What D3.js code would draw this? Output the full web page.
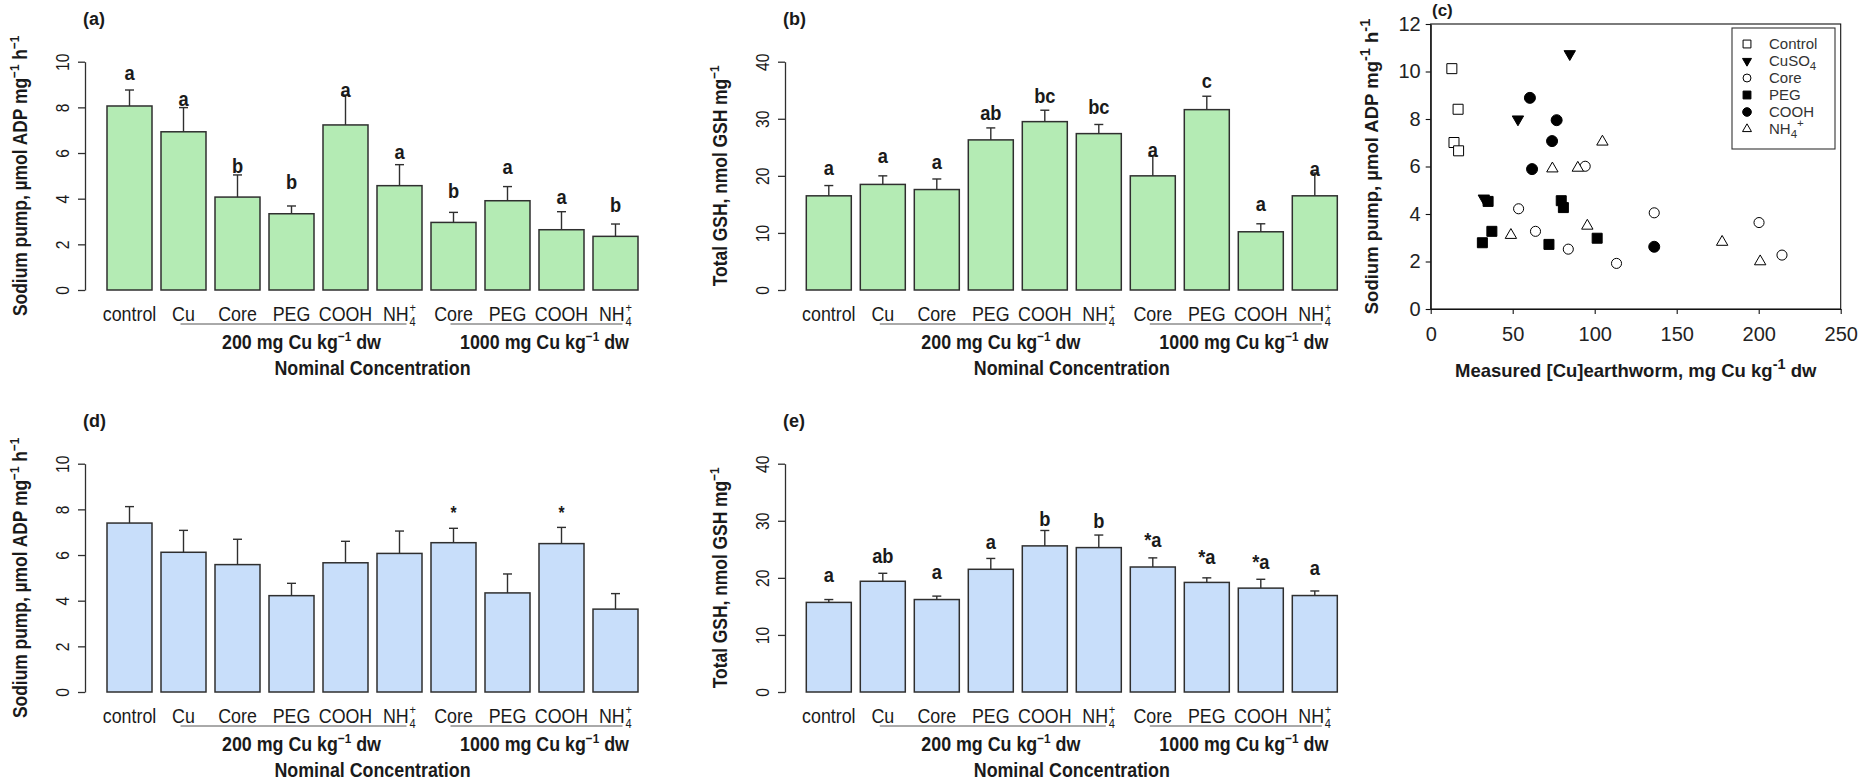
<!DOCTYPE html>
<html>
<head>
<meta charset="utf-8">
<script src="https://cdn.jsdelivr.net/npm/d3@7"></script>
<style>
  html, body { margin: 0; padding: 0; background: #fff; }
  svg { display: block; font-family: Arial, "Liberation Sans", Helvetica, sans-serif; }
</style>
</head>
<body>
<script>
// ---------------- data ----------------
const barKeys   = ["control", "Cu", "Core200", "PEG200", "COOH200", "NH4_200", "Core1000", "PEG1000", "COOH1000", "NH4_1000"];
const barLabels = ["control", "Cu", "Core", "PEG", "COOH", "NH4+", "Core", "PEG", "COOH", "NH4+"];
const doseGroups = [
  { dose: "200",  from: "Cu",       to: "NH4_200" },
  { dose: "1000", from: "Core1000", to: "NH4_1000" }
];

// (a) sodium pump, first exposure
const pumpA    = [8.06, 6.93, 4.07, 3.34, 7.23, 4.57, 2.96, 3.91, 2.64, 2.35];
const pumpASe  = [0.70, 1.06, 0.97, 0.34, 1.31, 0.92, 0.44, 0.62, 0.79, 0.54];
const lettersA = ["a", "a", "b", "b", "a", "a", "b", "a", "a", "b"];
const lettersAAt = [9.49, 8.37, 5.44, 4.70, 8.76, 6.03, 4.34, 5.36, 4.06, 3.72];

// (b) total GSH, first exposure
const gshB    = [16.5, 18.5, 17.6, 26.3, 29.5, 27.4, 20.0, 31.6, 10.2, 16.5];
const gshBSe  = [1.8, 1.5, 1.85, 2.1, 2.0, 1.6, 3.5, 2.35, 1.4, 4.0];
const lettersB = ["a", "a", "a", "ab", "bc", "bc", "a", "c", "a", "a"];
const lettersBAt = [21.3, 23.35, 22.4, 30.95, 34.0, 32.0, 24.5, 36.5, 15.0, 21.2];

// (d) sodium pump, second exposure
const pumpD    = [7.40, 6.12, 5.58, 4.22, 5.66, 6.07, 6.54, 4.34, 6.50, 3.63];
const pumpDSe  = [0.72, 0.96, 1.11, 0.54, 0.94, 0.98, 0.63, 0.83, 0.71, 0.68];
const lettersD = ["", "", "", "", "", "", "*", "", "*", ""];
const lettersDAt = [0, 0, 0, 0, 0, 0, 7.94, 0, 7.94, 0];

// (e) total GSH, second exposure
const gshE    = [15.7, 19.4, 16.2, 21.5, 25.6, 25.3, 21.9, 19.2, 18.2, 16.9];
const gshESe  = [0.5, 1.4, 0.6, 1.9, 2.7, 2.2, 1.6, 0.8, 1.55, 0.8];
const lettersE = ["a", "ab", "a", "a", "b", "b", "*a", "*a", "*a", "a"];
const lettersEAt = [20.5, 23.7, 21.0, 26.3, 30.3, 30.0, 26.6, 23.6, 22.8, 21.6];

const pumpTicks = [0, 2, 4, 6, 8, 10];
const gshTicks  = [0, 10, 20, 30, 40];

// (c) sodium pump vs. measured tissue Cu
const controlCu = [12.9, 16.7, 14.2, 17.0];
const controlPump = [10.12, 8.41, 7.01, 6.66];
const cuso4Cu = [84.8, 53.2, 32.4];
const cuso4Pump = [10.74, 7.99, 4.66];
const coreCu = [53.6, 63.9, 83.9, 94.2, 113.3, 136.3, 200.2, 214.2];
const corePump = [4.22, 3.27, 2.52, 6.01, 1.92, 4.05, 3.64, 2.27];
const pegCu = [35.0, 31.5, 37.3, 72.1, 79.6, 80.9, 101.5];
const pegPump = [4.53, 2.79, 3.27, 2.72, 4.56, 4.27, 2.98];
const coohCu = [60.5, 76.8, 74.0, 61.8, 136.3];
const coohPump = [8.89, 7.95, 7.07, 5.89, 2.62];
const nh4Cu = [48.9, 74.2, 89.7, 104.7, 95.5, 177.7, 200.9];
const nh4Pump = [3.11, 5.91, 5.94, 7.04, 3.50, 2.82, 2.00];
const scatterXTicks = [0, 50, 100, 150, 200, 250];
const scatterYTicks = [0, 2, 4, 6, 8, 10, 12];

// ---------------- drawing ----------------
const W = 1870, H = 782;
const INK = "#1a1a1a", LINE = "#2f2f2f";
const GREEN = "#b4ebb4", BLUE = "#c8defa";
const SX = 0.87;   // bar panels use a condensed type
const FS = 20.5;   // bar panel text size

const svg = d3.select("body").append("svg").attr("width", W).attr("height", H);

// text made of plain and superscript pieces
function rich(text, parts, size, supSize, shift) {
  let off = 0;
  parts.forEach(p => {
    const sup = p[1];
    const target = sup ? -shift : 0;
    text.append("tspan")
      .attr("font-size", sup ? supSize : size)
      .attr("dy", target - off)
      .text(p[0]);
    off = target;
  });
  return text;
}

function place(parent, x, y, sx, rotate) {
  return parent.append("g")
    .attr("transform", `translate(${x},${y})${rotate ? ` rotate(${rotate})` : ""} scale(${sx},1)`);
}

// NH4+ with stacked sub/superscript, centred on x
function nh4Label(parent, cx, y, size) {
  const g = place(parent, cx, y, SX);
  const inner = g.append("g");
  const base = inner.append("text").attr("font-size", size).attr("fill", INK).text("NH");
  const w = base.node().getComputedTextLength();
  const sup = inner.append("text").attr("x", w + 1).attr("y", -size * 0.45)
    .attr("font-size", size * 0.62).attr("fill", INK).text("+");
  const sub = inner.append("text").attr("x", w + 1).attr("y", size * 0.26)
    .attr("font-size", size * 0.62).attr("fill", INK).text("4");
  const total = w + 1 + Math.max(sup.node().getComputedTextLength(), sub.node().getComputedTextLength());
  inner.attr("transform", `translate(${-total / 2},0)`);
}

function barPanel(cfg) {
  const g = svg.append("g");
  const x = d3.scaleBand().domain(barKeys).range(cfg.xRange)
    .paddingInner(1 / 6).paddingOuter(1 / 12);
  const y = d3.scaleLinear().domain([0, cfg.yMax]).range([cfg.yBase, cfg.yTop]);
  const cx = k => x(k) + x.bandwidth() / 2;

  // y axis
  const ax = g.append("g").attr("transform", `translate(${cfg.axisX},0)`)
    .call(d3.axisLeft(y).tickValues(cfg.ticks).tickSize(7).tickSizeOuter(0).tickFormat(d3.format("d")));
  ax.attr("font-size", null).attr("font-family", null);
  ax.select(".domain").attr("stroke", LINE).attr("stroke-width", 1.3);
  ax.selectAll(".tick line").attr("stroke", LINE).attr("stroke-width", 1.3);
  ax.selectAll(".tick text")
    .attr("x", 0).attr("dy", "0.36em")
    .attr("transform", `translate(-22,0) rotate(-90) scale(${SX},1)`)
    .attr("text-anchor", "middle").attr("font-size", 18).attr("fill", INK);

  // y label
  const yl = place(g, cfg.axisX - 58, (cfg.yBase + cfg.yTop) / 2, SX, -90)
    .append("text").attr("text-anchor", "middle").attr("dy", "0.36em")
    .attr("font-weight", "bold").attr("fill", INK);
  rich(yl, cfg.yLabel, 20, 13.5, 8);

  // bars
  g.selectAll("rect.bar").data(cfg.values).join("rect").attr("class", "bar")
    .attr("x", (d, i) => x(barKeys[i])).attr("y", d => y(d))
    .attr("width", x.bandwidth()).attr("height", d => y(0) - y(d))
    .attr("fill", cfg.fill).attr("stroke", LINE).attr("stroke-width", 1.5);

  // error bars
  const eb = g.selectAll("g.err").data(cfg.values).join("g").attr("class", "err")
    .attr("stroke", LINE).attr("stroke-width", 1.4);
  eb.append("line")
    .attr("x1", (d, i) => cx(barKeys[i])).attr("x2", (d, i) => cx(barKeys[i]))
    .attr("y1", d => y(d)).attr("y2", (d, i) => y(d + cfg.se[i]));
  eb.append("line")
    .attr("x1", (d, i) => cx(barKeys[i]) - 4.5).attr("x2", (d, i) => cx(barKeys[i]) + 4.5)
    .attr("y1", (d, i) => y(d + cfg.se[i])).attr("y2", (d, i) => y(d + cfg.se[i]));

  // significance letters
  cfg.letters.forEach((t, i) => {
    if (!t) return;
    place(g, cx(barKeys[i]), y(cfg.lettersAt[i]), SX)
      .append("text").attr("text-anchor", "middle").attr("dy", cfg.letterDy)
      .attr("font-weight", "bold").attr("font-size", cfg.letterSize).attr("fill", INK).text(t);
  });

  // category labels
  barLabels.forEach((lab, i) => {
    if (lab === "NH4+") nh4Label(g, cx(barKeys[i]), cfg.yBase + 31, FS);
    else place(g, cx(barKeys[i]), cfg.yBase + 31, SX).append("text")
      .attr("text-anchor", "middle").attr("font-size", FS).attr("fill", INK).text(lab);
  });

  // dose group underline + label
  doseGroups.forEach(grp => {
    const a = cx(grp.from), b = cx(grp.to);
    g.append("line").attr("x1", a - 3).attr("x2", b + 7)
      .attr("y1", cfg.yBase + 34).attr("y2", cfg.yBase + 34)
      .attr("stroke", "#555").attr("stroke-width", 1);
    const t = place(g, (a + b) / 2 + 10, cfg.yBase + 59, SX).append("text")
      .attr("text-anchor", "middle").attr("font-weight", "bold").attr("fill", INK);
    rich(t, [[grp.dose + " mg Cu kg", 0], ["\u22121", 1], [" dw", 0]], FS, 13.5, 8);
  });

  // x title
  const r = x.range();
  place(g, (r[0] + r[1]) / 2, cfg.yBase + 85, SX).append("text")
    .attr("text-anchor", "middle").attr("font-weight", "bold").attr("font-size", FS)
    .attr("fill", INK).text("Nominal Concentration");

  // panel tag
  g.append("text").attr("x", cfg.axisX - 2).attr("y", cfg.yTop - 37)
    .attr("font-weight", "bold").attr("font-size", 18).attr("fill", INK).text(cfg.tag);
}

const pumpLabel = [["Sodium pump, \u00b5mol ADP mg", 0], ["\u22121", 1], [" h", 0], ["\u22121", 1]];
const gshLabel  = [["Total GSH, nmol GSH mg", 0], ["\u22121", 1]];

barPanel({ tag: "(a)", axisX: 85, xRange: [102.5, 642.5], yBase: 290, yTop: 61.7, yMax: 10,
  ticks: pumpTicks, values: pumpA, se: pumpASe, letters: lettersA, lettersAt: lettersAAt,
  letterDy: "0.32em", letterSize: 21, fill: GREEN, yLabel: pumpLabel });
barPanel({ tag: "(b)", axisX: 785, xRange: [801.8, 1341.8], yBase: 290, yTop: 61.7, yMax: 40,
  ticks: gshTicks, values: gshB, se: gshBSe, letters: lettersB, lettersAt: lettersBAt,
  letterDy: "0.32em", letterSize: 21, fill: GREEN, yLabel: gshLabel });
barPanel({ tag: "(d)", axisX: 85, xRange: [102.5, 642.5], yBase: 692, yTop: 463.7, yMax: 10,
  ticks: pumpTicks, values: pumpD, se: pumpDSe, letters: lettersD, lettersAt: lettersDAt,
  letterDy: "0.45em", letterSize: 18, fill: BLUE, yLabel: pumpLabel });
barPanel({ tag: "(e)", axisX: 785, xRange: [801.8, 1341.8], yBase: 692, yTop: 463.7, yMax: 40,
  ticks: gshTicks, values: gshE, se: gshESe, letters: lettersE, lettersAt: lettersEAt,
  letterDy: "0.32em", letterSize: 21, fill: BLUE, yLabel: gshLabel });

// ---------------- (c) scatter ----------------
(function scatter() {
  const g = svg.append("g");
  const x = d3.scaleLinear().domain([0, 250]).range([1430.7, 1840.7]);
  const y = d3.scaleLinear().domain([0, 12]).range([309, 24]);

  g.append("rect").attr("x", x(0)).attr("y", y(12))
    .attr("width", x(250) - x(0)).attr("height", y(0) - y(12))
    .attr("fill", "none").attr("stroke", "#111").attr("stroke-width", 1.1);

  const ax = g.append("g").attr("transform", `translate(0,${y(0)})`)
    .call(d3.axisBottom(x).tickValues(scatterXTicks).tickSize(5).tickSizeOuter(0).tickPadding(13));
  const ay = g.append("g").attr("transform", `translate(${x(0)},0)`)
    .call(d3.axisLeft(y).tickValues(scatterYTicks).tickSize(5).tickSizeOuter(0).tickPadding(5));
  [ax, ay].forEach(a => {
    a.attr("font-size", null).attr("font-family", null);
    a.select(".domain").attr("stroke", "#111").attr("stroke-width", 1.1);
    a.selectAll(".tick line").attr("stroke", "#111").attr("stroke-width", 1.1);
    a.selectAll(".tick text").attr("font-size", 20).attr("fill", "#222");
  });

  // axis titles
  const xt = g.append("text").attr("x", (x(0) + x(250)) / 2).attr("y", 377)
    .attr("text-anchor", "middle").attr("font-weight", "bold").attr("fill", INK);
  rich(xt, [["Measured [Cu]earthworm, mg Cu kg", 0], ["-1", 1], [" dw", 0]], 18.5, 14.5, 8);
  const yt = g.append("g").attr("transform", `translate(1377.5,${(y(0) + y(12)) / 2}) rotate(-90)`)
    .append("text").attr("text-anchor", "middle").attr("dy", "0.36em")
    .attr("font-weight", "bold").attr("fill", INK);
  rich(yt, [["Sodium pump, \u00b5mol ADP mg", 0], ["-1", 1], [" h", 0], ["-1", 1]], 18.5, 14.5, 8);

  g.append("text").attr("x", 1432).attr("y", 16).attr("font-weight", "bold")
    .attr("font-size", 17).attr("fill", INK).text("(c)");

  const series = [
    { name: "Control", xs: controlCu, ys: controlPump, type: d3.symbolSquare, area: 100, fill: "#fff", flip: false },
    { name: "CuSO4",   xs: cuso4Cu,   ys: cuso4Pump,   type: d3.symbolTriangle, area: 56, fill: "#000", flip: true },
    { name: "Core",    xs: coreCu,    ys: corePump,    type: d3.symbolCircle, area: 80, fill: "#fff", flip: false },
    { name: "PEG",     xs: pegCu,     ys: pegPump,     type: d3.symbolSquare, area: 100, fill: "#000", flip: false },
    { name: "COOH",    xs: coohCu,    ys: coohPump,    type: d3.symbolCircle, area: 95, fill: "#000", flip: false },
    { name: "NH4+",    xs: nh4Cu,     ys: nh4Pump,     type: d3.symbolTriangle, area: 56, fill: "#fff", flip: false }
  ];
  series.forEach(s => {
    const path = d3.symbol().type(s.type).size(s.area)();
    g.append("g").selectAll("path").data(s.xs).join("path")
      .attr("d", path)
      .attr("transform", (d, i) => `translate(${x(d)},${y(s.ys[i])})${s.flip ? " rotate(180)" : ""}`)
      .attr("fill", s.fill).attr("stroke", "#000").attr("stroke-width", 1);
  });

  // legend
  const lg = g.append("g");
  lg.append("rect").attr("x", 1732).attr("y", 28).attr("width", 103).attr("height", 121)
    .attr("fill", "#fff").attr("stroke", "#333").attr("stroke-width", 1.1);
  series.forEach((s, i) => {
    const ry = 44 + 17 * i;
    const small = s.area * 0.62;
    lg.append("path").attr("d", d3.symbol().type(s.type).size(small)())
      .attr("transform", `translate(1747,${ry})${s.flip ? " rotate(180)" : ""}`)
      .attr("fill", s.fill).attr("stroke", "#000").attr("stroke-width", 1);
    const t = lg.append("text").attr("x", 1769).attr("y", ry + 5)
      .attr("font-size", 15).attr("fill", "#333");
    if (s.name === "CuSO4") {
      t.append("tspan").text("CuSO");
      t.append("tspan").attr("font-size", 11.5).attr("dy", 4).text("4");
    } else if (s.name === "NH4+") {
      t.append("tspan").text("NH");
      t.append("tspan").attr("font-size", 11.5).attr("dy", 4).text("4");
      t.append("tspan").attr("font-size", 11.5).attr("dy", -11).text("+");
    } else {
      t.text(s.name);
    }
  });
})();
</script>
</body>
</html>
